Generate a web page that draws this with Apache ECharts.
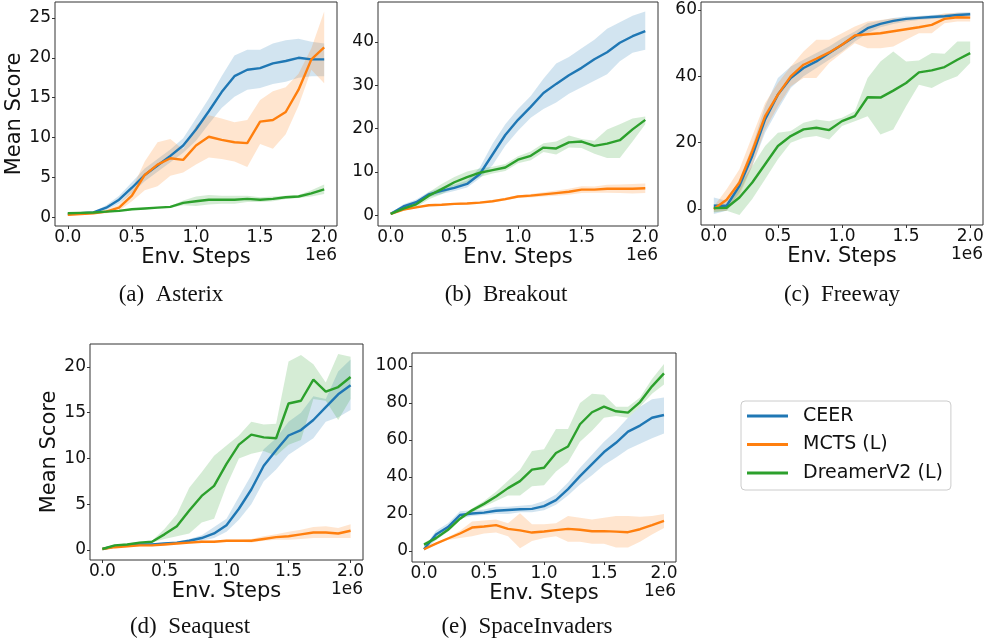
<!DOCTYPE html>
<html>
<head>
<meta charset="utf-8">
<script src="https://cdn.jsdelivr.net/npm/echarts@6/dist/echarts.min.js"></script>
<style>
  html, body { margin: 0; padding: 0; background: #fff; }
  #main { width: 986px; height: 640px; }
</style>
</head>
<body>
<div id="main"></div>
<script>
// env steps, in units of 1e6
var steps = [0.0, 0.1, 0.2, 0.3, 0.4, 0.5, 0.6, 0.7, 0.8, 0.9, 1.0, 1.1, 1.2, 1.3, 1.4, 1.5, 1.6, 1.7, 1.8, 1.9, 2.0];
var xTicks = [0, 0.5, 1, 1.5, 2];
var methods = ['CEER', 'MCTS (L)', 'DreamerV2 (L)'];

// (a) Asterix
var asterixCeer   = [0.4, 0.5, 0.6, 1.2, 2.2, 3.7, 5.3, 6.5, 7.7, 9.0, 11.0, 13.3, 15.7, 17.7, 18.5, 18.7, 19.3, 19.6, 20.0, 19.8, 19.8];
var asterixCeerLo = [0.3, 0.4, 0.5, 0.9, 1.7, 3.0, 4.5, 5.7, 6.9, 8.1, 9.6, 11.7, 13.7, 15.1, 16.0, 16.2, 16.7, 17.0, 17.5, 17.7, 17.7];
var asterixCeerHi = [0.5, 0.6, 0.7, 1.5, 2.7, 4.4, 6.1, 7.3, 8.5, 9.9, 12.4, 14.9, 17.7, 20.3, 21.0, 21.0, 21.8, 22.2, 22.4, 22.0, 21.8];
var asterixMcts   = [0.3, 0.4, 0.5, 0.7, 1.2, 2.7, 5.3, 6.6, 7.4, 7.2, 9.0, 10.1, 9.7, 9.4, 9.3, 12.0, 12.2, 13.2, 16.0, 19.8, 21.3];
var asterixMctsLo = [0.2, 0.3, 0.4, 0.5, 0.8, 2.0, 3.4, 3.9, 5.2, 5.6, 6.6, 7.5, 7.3, 7.0, 6.3, 9.2, 8.6, 10.4, 14.0, 18.5, 16.8];
var asterixMctsHi = [0.4, 0.5, 0.6, 0.9, 1.6, 3.5, 7.0, 9.4, 9.8, 8.5, 11.5, 12.8, 12.4, 11.9, 12.2, 14.7, 15.8, 16.3, 18.0, 21.2, 25.8];
var asterixDreamer   = [0.5, 0.55, 0.6, 0.7, 0.8, 1.0, 1.1, 1.2, 1.3, 1.8, 2.0, 2.2, 2.2, 2.2, 2.3, 2.2, 2.3, 2.5, 2.6, 3.0, 3.5];
var asterixDreamerLo = [0.4, 0.45, 0.5, 0.6, 0.7, 0.9, 1.0, 1.1, 1.2, 1.5, 1.4, 1.6, 1.7, 1.7, 1.9, 1.9, 2.0, 2.3, 2.4, 2.6, 2.9];
var asterixDreamerHi = [0.6, 0.65, 0.7, 0.8, 0.9, 1.1, 1.2, 1.3, 1.4, 2.1, 2.6, 2.8, 2.7, 2.7, 2.7, 2.5, 2.6, 2.7, 2.8, 3.4, 4.1];
var asterixYTicks = [0, 5, 10, 15, 20, 25];

// (b) Breakout
var breakoutCeer   = [0.3, 2.0, 3.0, 4.8, 5.6, 6.3, 7.2, 9.5, 14.0, 18.5, 22.0, 25.0, 28.2, 30.3, 32.3, 34.0, 36.0, 37.6, 39.8, 41.3, 42.5];
var breakoutCeerLo = [0.1, 1.5, 2.4, 4.2, 4.9, 5.6, 6.4, 8.5, 11.5, 16.0, 19.5, 22.5, 24.5, 26.0, 28.0, 29.5, 31.0, 32.5, 35.5, 37.5, 38.2];
var breakoutCeerHi = [0.5, 2.5, 3.6, 5.4, 6.3, 7.0, 8.0, 11.0, 16.5, 21.0, 24.5, 27.5, 31.5, 35.0, 36.5, 38.5, 40.5, 43.0, 44.5, 46.0, 47.0];
var breakoutMcts   = [0.3, 1.3, 1.8, 2.3, 2.4, 2.6, 2.7, 2.9, 3.2, 3.7, 4.3, 4.5, 4.8, 5.1, 5.4, 5.9, 5.9, 6.1, 6.1, 6.1, 6.2];
var breakoutMctsLo = [0.2, 1.1, 1.6, 2.1, 2.2, 2.4, 2.5, 2.7, 3.0, 3.4, 4.0, 4.1, 4.3, 4.5, 4.7, 5.1, 5.2, 5.2, 5.1, 5.0, 5.1];
var breakoutMctsHi = [0.4, 1.5, 2.0, 2.5, 2.6, 2.8, 2.9, 3.1, 3.4, 4.0, 4.6, 4.9, 5.3, 5.7, 6.1, 6.7, 6.6, 7.0, 7.1, 7.2, 7.3];
var breakoutDreamer   = [0.3, 1.5, 2.5, 4.5, 6.0, 7.6, 8.8, 9.8, 10.4, 11.0, 12.8, 13.7, 15.6, 15.4, 16.8, 17.0, 16.0, 16.5, 17.3, 19.8, 22.0];
var breakoutDreamerLo = [0.1, 1.0, 1.8, 3.7, 4.8, 6.4, 7.5, 8.8, 9.6, 10.2, 12.0, 12.7, 14.6, 14.0, 15.6, 15.5, 14.2, 13.2, 13.2, 17.0, 21.0];
var breakoutDreamerHi = [0.5, 2.0, 3.2, 5.3, 7.2, 8.8, 10.1, 10.8, 11.2, 11.8, 13.6, 14.7, 16.6, 17.0, 18.4, 17.6, 17.2, 19.8, 21.0, 22.3, 22.8];
var breakoutYTicks = [0, 10, 20, 30, 40];

// (c) Freeway
var freewayCeer   = [1.0, 1.0, 7.0, 16.0, 27.0, 34.5, 39.5, 42.5, 44.5, 47.0, 49.5, 52.0, 54.5, 55.8, 56.7, 57.3, 57.6, 57.9, 58.1, 58.5, 58.7];
var freewayCeerLo = [-1.5, -0.5, 5.0, 13.0, 23.0, 30.0, 36.5, 40.0, 42.5, 45.0, 47.5, 50.5, 53.0, 54.8, 55.8, 56.5, 57.0, 57.3, 57.5, 57.8, 58.0];
var freewayCeerHi = [3.5, 2.5, 9.0, 19.0, 31.0, 39.5, 43.0, 45.0, 47.0, 49.0, 51.5, 53.5, 56.0, 56.8, 57.6, 58.1, 58.2, 58.5, 58.7, 59.2, 59.4];
var freewayMcts   = [0.0, 2.8, 8.0, 17.5, 28.0, 34.5, 40.0, 43.5, 45.3, 47.2, 49.5, 52.3, 52.7, 53.0, 53.6, 54.2, 54.8, 55.5, 57.3, 57.8, 57.7];
var freewayMctsLo = [-0.8, -0.5, 4.0, 13.0, 24.0, 31.0, 37.0, 39.5, 39.5, 44.0, 47.0, 50.0, 48.5, 48.5, 49.0, 51.0, 53.0, 53.0, 56.0, 56.5, 56.5];
var freewayMctsHi = [0.8, 6.0, 12.0, 22.0, 32.0, 38.0, 43.0, 47.5, 51.0, 51.0, 53.0, 55.0, 56.5, 57.0, 57.5, 57.5, 58.0, 58.0, 59.0, 59.0, 59.0];
var freewayDreamer   = [0.3, 0.4, 3.5, 8.0, 13.5, 19.0, 22.0, 24.0, 24.5, 23.8, 26.5, 28.0, 33.7, 33.6, 35.7, 38.0, 41.2, 41.8, 42.8, 45.0, 47.0];
var freewayDreamerLo = [-1.0, -0.5, -1.8, 3.0, 9.0, 15.0, 20.0, 21.5, 22.0, 21.0, 25.0, 26.5, 28.0, 22.5, 24.0, 31.0, 37.5, 36.5, 38.5, 40.0, 44.0];
var freewayDreamerHi = [1.5, 1.0, 7.0, 13.0, 19.0, 23.0, 23.5, 26.0, 27.0, 26.5, 27.5, 29.5, 39.5, 44.5, 47.5, 44.5, 44.8, 47.0, 46.8, 50.5, 50.5];
var freewayYTicks = [0, 20, 40, 60];

// (d) Seaquest
var seaquestCeer   = [0.1, 0.4, 0.5, 0.6, 0.6, 0.7, 0.8, 1.0, 1.3, 1.8, 2.7, 4.5, 6.6, 9.2, 10.9, 12.5, 13.1, 14.2, 15.6, 17.0, 18.0];
var seaquestCeerLo = [0.0, 0.3, 0.4, 0.5, 0.5, 0.6, 0.7, 0.8, 1.0, 1.3, 2.0, 3.3, 5.0, 7.5, 8.8, 10.4, 11.3, 12.2, 14.0, 14.5, 15.3];
var seaquestCeerHi = [0.2, 0.5, 0.6, 0.7, 0.7, 0.8, 0.9, 1.2, 1.6, 2.5, 3.4, 5.8, 8.2, 11.0, 12.2, 14.0, 15.0, 16.8, 16.5, 19.5, 20.8];
var seaquestMcts   = [0.1, 0.3, 0.4, 0.5, 0.5, 0.6, 0.7, 0.8, 0.9, 0.9, 1.0, 1.0, 1.0, 1.2, 1.4, 1.5, 1.7, 1.9, 1.9, 1.8, 2.1];
var seaquestMctsLo = [0.0, 0.2, 0.3, 0.4, 0.4, 0.5, 0.6, 0.7, 0.8, 0.8, 0.9, 0.9, 0.8, 1.0, 1.1, 1.1, 1.2, 1.3, 1.3, 1.3, 1.3];
var seaquestMctsHi = [0.2, 0.4, 0.5, 0.6, 0.6, 0.7, 0.8, 0.9, 1.0, 1.0, 1.1, 1.1, 1.2, 1.5, 1.7, 2.0, 2.2, 2.5, 2.6, 2.4, 2.8];
var seaquestDreamer   = [0.1, 0.5, 0.6, 0.8, 0.9, 1.7, 2.6, 4.3, 5.9, 7.0, 9.4, 11.5, 12.6, 12.3, 12.2, 16.0, 16.3, 18.6, 17.3, 17.8, 18.9];
var seaquestDreamerLo = [0.0, 0.4, 0.5, 0.7, 0.8, 1.2, 1.5, 1.8, 3.0, 3.4, 7.0, 10.0, 10.5, 10.8, 10.3, 11.5, 12.0, 16.5, 16.3, 14.2, 16.5];
var seaquestDreamerHi = [0.2, 0.6, 0.7, 0.9, 1.0, 2.3, 3.9, 6.8, 8.5, 10.3, 11.4, 12.5, 14.0, 13.7, 13.8, 20.6, 21.3, 20.3, 18.3, 21.4, 21.1];
var seaquestYTicks = [0, 5, 10, 15, 20];

// (e) SpaceInvaders
var invadersCeer   = [1.0, 9.0, 13.0, 19.5, 20.3, 20.8, 21.8, 22.2, 22.6, 22.8, 24.3, 27.5, 33.5, 40.5, 47.0, 53.5, 58.5, 64.5, 67.8, 72.0, 73.5];
var invadersCeerLo = [0.0, 6.0, 11.0, 17.5, 19.0, 19.5, 20.0, 20.0, 21.0, 21.0, 22.0, 25.0, 30.0, 36.0, 41.0, 46.5, 50.5, 55.0, 58.0, 61.0, 63.5];
var invadersCeerHi = [2.0, 11.0, 15.0, 21.5, 22.0, 22.5, 24.0, 24.0, 24.5, 25.0, 27.0, 30.5, 37.0, 45.0, 52.0, 59.0, 65.0, 72.0, 78.0, 82.0, 83.0];
var invadersMcts   = [1.0, 4.0, 6.8, 9.5, 12.7, 13.3, 14.0, 12.0, 11.2, 10.0, 10.6, 11.3, 12.0, 11.5, 10.7, 10.8, 10.5, 10.2, 11.8, 14.0, 16.3];
var invadersMctsLo = [0.5, 3.5, 6.0, 7.0, 8.0, 9.5, 10.0, 8.0, 1.5, 5.5, 7.0, 8.0, 5.0, 5.0, 4.0, 4.0, 2.0, 2.0, 5.0, 9.0, 12.5];
var invadersMctsHi = [1.5, 4.5, 7.5, 11.0, 16.0, 16.5, 17.0, 15.0, 20.5, 14.5, 14.5, 15.0, 19.0, 18.0, 17.0, 18.0, 19.0, 19.0, 18.5, 19.0, 20.0];
var invadersDreamer   = [3.5, 7.0, 11.5, 17.5, 22.0, 25.5, 29.5, 34.0, 37.8, 44.0, 45.0, 53.0, 56.5, 68.5, 75.0, 78.0, 75.5, 74.8, 80.5, 89.0, 96.0];
var invadersDreamerLo = [2.5, 6.0, 10.5, 16.5, 21.0, 24.0, 27.0, 30.0, 30.0, 35.0, 35.5, 43.0, 48.0, 59.0, 65.0, 72.0, 73.0, 72.0, 78.0, 85.0, 90.0];
var invadersDreamerHi = [4.5, 8.0, 12.5, 18.5, 23.0, 27.0, 32.0, 38.0, 44.0, 54.0, 55.0, 66.0, 66.0, 80.0, 85.0, 84.5, 78.0, 78.0, 83.0, 93.0, 101.0];
var invadersYTicks = [0, 20, 40, 60, 80, 100];

var colors = ['#1f77b4', '#ff7f0e', '#2ca02c'];
var bandColors = ['rgba(31,119,180,0.2)', 'rgba(255,127,14,0.2)', 'rgba(44,160,44,0.2)'];

var panels = [
  { grid: { left: 55, top: 2, width: 282, height: 224 }, yMin: -1.1, yMax: 27.0, yTicks: asterixYTicks, yName: 'Mean Score',
    caption: '(a)\u2002Asterix', capX: 171, capY: 295,
    lines: [asterixCeer, asterixMcts, asterixDreamer], lo: [asterixCeerLo, asterixMctsLo, asterixDreamerLo], hi: [asterixCeerHi, asterixMctsHi, asterixDreamerHi] },
  { grid: { left: 378, top: 2, width: 280, height: 224 }, yMin: -2.5, yMax: 49.2, yTicks: breakoutYTicks, yName: '',
    caption: '(b)\u2002Breakout', capX: 506, capY: 295,
    lines: [breakoutCeer, breakoutMcts, breakoutDreamer], lo: [breakoutCeerLo, breakoutMctsLo, breakoutDreamerLo], hi: [breakoutCeerHi, breakoutMctsHi, breakoutDreamerHi] },
  { grid: { left: 701, top: 2, width: 282, height: 223 }, yMin: -4.8, yMax: 62.4, yTicks: freewayYTicks, yName: '',
    caption: '(c)\u2002Freeway', capX: 842, capY: 295,
    lines: [freewayCeer, freewayMcts, freewayDreamer], lo: [freewayCeerLo, freewayMctsLo, freewayDreamerLo], hi: [freewayCeerHi, freewayMctsHi, freewayDreamerHi] },
  { grid: { left: 90, top: 344, width: 273, height: 216 }, yMin: -1.1, yMax: 22.5, yTicks: seaquestYTicks, yName: 'Mean Score',
    caption: '(d)\u2002Seaquest', capX: 190, capY: 627,
    lines: [seaquestCeer, seaquestMcts, seaquestDreamer], lo: [seaquestCeerLo, seaquestMctsLo, seaquestDreamerLo], hi: [seaquestCeerHi, seaquestMctsHi, seaquestDreamerHi] },
  { grid: { left: 412, top: 353, width: 264, height: 209 }, yMin: -5.9, yMax: 107, yTicks: invadersYTicks, yName: '',
    caption: '(e)\u2002SpaceInvaders', capX: 527, capY: 627,
    lines: [invadersCeer, invadersMcts, invadersDreamer], lo: [invadersCeerLo, invadersMctsLo, invadersDreamerLo], hi: [invadersCeerHi, invadersMctsHi, invadersDreamerHi] }
];

var sans = 'DejaVu Sans';
var grids = [], xAxes = [], yAxes = [], series = [], graphics = [];

function bandSeries(gi, lo, hi, fill) {
  return {
    type: 'custom',
    xAxisIndex: gi,
    yAxisIndex: gi,
    silent: true,
    z: 1,
    data: steps.map(function (x, i) { return [x, lo[i], hi[i]]; }),
    encode: { x: 0, y: [1, 2] },
    renderItem: function (params, api) {
      if (params.dataIndex !== 0) return;
      var pts = [];
      for (var i = 0; i < steps.length; i++) pts.push(api.coord([steps[i], hi[i]]));
      for (var j = steps.length - 1; j >= 0; j--) pts.push(api.coord([steps[j], lo[j]]));
      return { type: 'polygon', shape: { points: pts }, style: { fill: fill } };
    }
  };
}

panels.forEach(function (p, gi) {
  grids.push({
    left: p.grid.left, top: p.grid.top, width: p.grid.width, height: p.grid.height,
    containLabel: false, outerBoundsMode: 'none',
    show: true, borderColor: '#333', borderWidth: 1, backgroundColor: 'transparent'
  });
  xAxes.push({
    type: 'value', gridIndex: gi, min: -0.1, max: 2.1, position: 'bottom',
    name: 'Env. Steps', nameLocation: 'middle', nameGap: 19,
    nameTextStyle: { fontFamily: sans, fontSize: 21, color: '#111', verticalAlign: 'top' },
    axisLine: { show: false, onZero: false },
    splitLine: { show: false },
    axisTick: { show: true, length: 3, customValues: xTicks, lineStyle: { color: '#333' } },
    axisLabel: { customValues: xTicks, margin: 3, fontFamily: sans, fontSize: 17, color: '#111',
      formatter: function (v) { return v.toFixed(1); } }
  });
  yAxes.push({
    type: 'value', gridIndex: gi, min: p.yMin, max: p.yMax, position: 'left',
    name: p.yName, nameLocation: 'middle', nameGap: 30,
    nameTextStyle: { fontFamily: sans, fontSize: 21, color: '#111' },
    axisLine: { show: false, onZero: false },
    splitLine: { show: false },
    axisTick: { show: true, length: 3, customValues: p.yTicks, lineStyle: { color: '#333' } },
    axisLabel: { customValues: p.yTicks, margin: 4, fontFamily: sans, fontSize: 17, color: '#111',
      formatter: function (v) { return String(Math.round(v)); } }
  });
  for (var k = 0; k < 3; k++) {
    series.push(bandSeries(gi, p.lo[k], p.hi[k], bandColors[k]));
  }
  for (var m = 0; m < 3; m++) {
    var vals = p.lines[m];
    series.push({
      name: methods[m],
      type: 'line',
      xAxisIndex: gi, yAxisIndex: gi,
      data: steps.map(function (x, i) { return [x, vals[i]]; }),
      showSymbol: false, symbol: 'none',
      color: colors[m],
      lineStyle: { color: colors[m], width: 2.4 },
      z: 2 + m
    });
  }
  graphics.push({
    type: 'text', x: p.grid.left + p.grid.width, y: p.grid.top + p.grid.height + 30,
    style: { text: '1e6', font: '17px "DejaVu Sans"', fill: '#111', textAlign: 'right', textVerticalAlign: 'middle' }
  });
  graphics.push({
    type: 'text', x: p.capX, y: p.capY,
    style: { text: p.caption, font: '23px "Liberation Serif"', fill: '#111', textAlign: 'center', textVerticalAlign: 'middle' }
  });
});

var chart = echarts.init(document.getElementById('main'));
chart.setOption({
  animation: false,
  backgroundColor: '#fff',
  grid: grids,
  xAxis: xAxes,
  yAxis: yAxes,
  series: series,
  graphic: graphics,
  legend: {
    data: methods,
    orient: 'vertical',
    left: 741, top: 401,
    padding: [5, 8, 7, 6],
    itemGap: 8.5,
    itemWidth: 41, itemHeight: 20,
    icon: 'path://M0,0H41V3H0Z',
    itemStyle: { borderWidth: 0 },
    borderColor: '#ccc', borderWidth: 1, borderRadius: 4,
    backgroundColor: '#fff',
    textStyle: { fontFamily: sans, fontSize: 19, color: '#111', lineHeight: 20, padding: [0, 0, 0, 10] }
  }
});
</script>
</body>
</html>
